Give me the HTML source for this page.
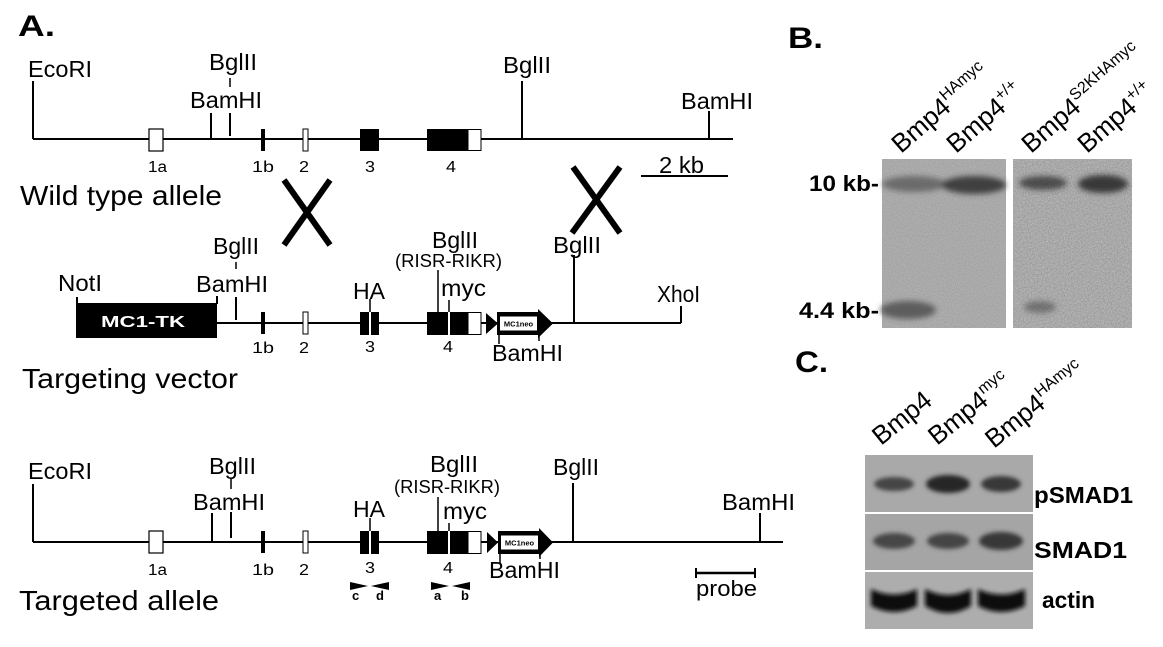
<!DOCTYPE html>
<html><head><meta charset="utf-8"><style>
html,body{margin:0;padding:0;background:#fff;}
svg{display:block;}
text{font-family:"Liberation Sans",Arial,sans-serif;}
</style></head><body>
<svg width="1163" height="647" viewBox="0 0 1163 647" xmlns="http://www.w3.org/2000/svg">
<defs>
<filter id="noise" x="0" y="0" width="100%" height="100%">
<feTurbulence type="fractalNoise" baseFrequency="0.9" numOctaves="2" seed="4"/>
<feColorMatrix type="saturate" values="0"/>
<feComponentTransfer><feFuncA type="linear" slope="0" intercept="0.3"/></feComponentTransfer>
</filter>
<filter id="noise2" x="0" y="0" width="100%" height="100%">
<feTurbulence type="fractalNoise" baseFrequency="0.7" numOctaves="2" seed="9"/>
<feColorMatrix type="saturate" values="0"/>
<feComponentTransfer><feFuncA type="linear" slope="0" intercept="0.45"/></feComponentTransfer>
</filter>
<filter id="blur" x="-50%" y="-100%" width="200%" height="300%"><feGaussianBlur stdDeviation="3"/></filter>
<filter id="blur2" x="-50%" y="-100%" width="200%" height="300%"><feGaussianBlur stdDeviation="2.2"/></filter>
</defs>
<rect width="1163" height="647" fill="#fff"/>

<!-- ===== Panel A ===== -->
<text x="18" y="36" font-size="30" font-weight="bold" textLength="37" lengthAdjust="spacingAndGlyphs">A.</text>

<!-- Wild type allele -->
<g stroke="#000" stroke-width="2" fill="none">
<line x1="33" y1="139" x2="733" y2="139"/>
<line x1="33" y1="81" x2="33" y2="139"/>
<line x1="211" y1="113" x2="211" y2="139"/>
<line x1="230" y1="113" x2="230" y2="136"/>
<line x1="230" y1="78" x2="230" y2="87" stroke-width="1.5"/>
<line x1="522" y1="81" x2="522" y2="139"/>
<line x1="709" y1="111" x2="709" y2="139"/>
<line x1="641" y1="176" x2="728" y2="176"/>
</g>
<rect x="149" y="129" width="14" height="22" fill="#fff" stroke="#000" stroke-width="1.2"/>
<rect x="261" y="129" width="4" height="22" fill="#000"/>
<rect x="303" y="129" width="5" height="22" fill="#fff" stroke="#000" stroke-width="1"/>
<rect x="360" y="129" width="19" height="22" fill="#000"/>
<rect x="427" y="129" width="41" height="22" fill="#000"/>
<rect x="468" y="129.5" width="13" height="21" fill="#fff" stroke="#000" stroke-width="1"/>

<g font-size="23.5" fill="#000">
<text x="28" y="77" textLength="64" lengthAdjust="spacingAndGlyphs">EcoRI</text>
<text x="209" y="70" textLength="48" lengthAdjust="spacingAndGlyphs">BglII</text>
<text x="190" y="108" textLength="72" lengthAdjust="spacingAndGlyphs">BamHI</text>
<text x="503" y="73" textLength="48" lengthAdjust="spacingAndGlyphs">BglII</text>
<text x="681" y="109" textLength="72" lengthAdjust="spacingAndGlyphs">BamHI</text>
<text x="659" y="173" textLength="45" lengthAdjust="spacingAndGlyphs">2 kb</text>
</g>
<g font-size="15.5" fill="#000">
<text x="148" y="172" textLength="19" lengthAdjust="spacingAndGlyphs">1a</text>
<text x="252" y="172" textLength="22" lengthAdjust="spacingAndGlyphs">1b</text>
<text x="299" y="172" textLength="10" lengthAdjust="spacingAndGlyphs">2</text>
<text x="365" y="172" textLength="10" lengthAdjust="spacingAndGlyphs">3</text>
<text x="446" y="172" textLength="10" lengthAdjust="spacingAndGlyphs">4</text>
</g>
<text x="20" y="205" font-size="28" textLength="202" lengthAdjust="spacingAndGlyphs">Wild type allele</text>

<!-- crossover X's -->
<g stroke="#000" stroke-width="6">
<line x1="284" y1="180" x2="330" y2="245"/>
<line x1="330" y1="180" x2="284" y2="245"/>
<line x1="573" y1="167" x2="620" y2="233"/>
<line x1="620" y1="167" x2="572" y2="233"/>
</g>

<!-- Targeting vector -->
<g stroke="#000" stroke-width="2" fill="none">
<line x1="217" y1="323" x2="681" y2="323"/>
<line x1="77" y1="297" x2="77" y2="304"/>
<line x1="217" y1="296" x2="217" y2="304"/>
<line x1="236" y1="297" x2="236" y2="320"/>
<line x1="236" y1="262" x2="236" y2="269" stroke-width="1.5"/>
<line x1="574" y1="255" x2="574" y2="323"/>
<line x1="681" y1="306" x2="681" y2="323"/>
</g>
<rect x="76" y="303" width="141" height="35" fill="#000"/>
<text x="101" y="327" fill="#fff" font-weight="bold" font-size="16" textLength="84" lengthAdjust="spacingAndGlyphs">MC1-TK</text>
<rect x="261" y="312" width="4" height="22" fill="#000"/>
<rect x="303" y="312" width="5" height="22" fill="#fff" stroke="#000" stroke-width="1"/>

<g>
<rect x="360" y="312" width="19" height="23" fill="#000"/>
<rect x="369" y="312" width="2" height="23" fill="#fff"/>
<line x1="370" y1="299" x2="370" y2="312" stroke="#000" stroke-width="1.5"/>
<rect x="427" y="312" width="41" height="23" fill="#000"/>
<rect x="448" y="312" width="2" height="23" fill="#fff"/>
<rect x="468" y="312.5" width="13" height="22" fill="#fff" stroke="#000" stroke-width="1"/>
<line x1="449" y1="300" x2="449" y2="312" stroke="#000" stroke-width="1.5"/>
<line x1="438" y1="270" x2="438" y2="312" stroke="#000" stroke-width="1.5"/>
<polygon points="486,313 498,323.5 486,334" fill="#000"/>
<polygon points="497,312 538,312 538,309 553,323.5 538,338 538,335 497,335" fill="#000"/>
<rect x="500" y="316.5" width="37" height="14" fill="#fff"/>
<text x="518.5" y="326.5" font-size="7.5" font-weight="bold" text-anchor="middle" fill="#000">MC1neo</text>
<line x1="499" y1="334" x2="499" y2="344" stroke="#000" stroke-width="1.5"/>
<line x1="539" y1="334" x2="539" y2="341" stroke="#000" stroke-width="1.5"/>
</g>

<g font-size="23.5" fill="#000">
<text x="58" y="291" textLength="44" lengthAdjust="spacingAndGlyphs">NotI</text>
<text x="196" y="292" textLength="72" lengthAdjust="spacingAndGlyphs">BamHI</text>
<text x="213" y="254" textLength="46" lengthAdjust="spacingAndGlyphs">BglII</text>
<text x="353" y="299" textLength="32" lengthAdjust="spacingAndGlyphs">HA</text>
<text x="432" y="248" textLength="46" lengthAdjust="spacingAndGlyphs">BglII</text>
<text x="441" y="296" textLength="45" lengthAdjust="spacingAndGlyphs">myc</text>
<text x="553" y="253" textLength="48" lengthAdjust="spacingAndGlyphs">BglII</text>
<text x="657" y="302" textLength="43" lengthAdjust="spacingAndGlyphs">XhoI</text>
<text x="492" y="361" textLength="71" lengthAdjust="spacingAndGlyphs">BamHI</text>
</g>
<text x="395" y="267" font-size="18" textLength="107" lengthAdjust="spacingAndGlyphs">(RISR-RIKR)</text>
<g font-size="15.5" fill="#000">
<text x="252" y="353" textLength="22" lengthAdjust="spacingAndGlyphs">1b</text>
<text x="299" y="353" textLength="10" lengthAdjust="spacingAndGlyphs">2</text>
<text x="365" y="352" textLength="10" lengthAdjust="spacingAndGlyphs">3</text>
<text x="443" y="352" textLength="10" lengthAdjust="spacingAndGlyphs">4</text>
</g>
<text x="22" y="388" font-size="28" textLength="216" lengthAdjust="spacingAndGlyphs">Targeting vector</text>

<!-- Targeted allele -->
<g stroke="#000" stroke-width="2" fill="none">
<line x1="33" y1="542" x2="783" y2="542"/>
<line x1="33" y1="484" x2="33" y2="542"/>
<line x1="212" y1="513" x2="212" y2="542"/>
<line x1="231" y1="512" x2="231" y2="538"/>
<line x1="231" y1="479" x2="231" y2="489" stroke-width="1.5"/>
<line x1="573" y1="483" x2="573" y2="542"/>
<line x1="760" y1="513" x2="760" y2="542"/>
</g>
<rect x="149" y="531" width="14" height="22" fill="#fff" stroke="#000" stroke-width="1.2"/>
<rect x="261" y="531" width="4" height="22" fill="#000"/>
<rect x="303" y="531" width="5" height="22" fill="#fff" stroke="#000" stroke-width="1"/>
<g transform="translate(0,219)">
<rect x="360" y="312" width="19" height="23" fill="#000"/>
<rect x="369" y="312" width="2" height="23" fill="#fff"/>
<line x1="370" y1="299" x2="370" y2="312" stroke="#000" stroke-width="1.5"/>
<rect x="427" y="312" width="41" height="23" fill="#000"/>
<rect x="448" y="312" width="2" height="23" fill="#fff"/>
<rect x="468" y="312.5" width="13" height="22" fill="#fff" stroke="#000" stroke-width="1"/>
<line x1="449" y1="304" x2="449" y2="312" stroke="#000" stroke-width="1.5"/>
<line x1="438" y1="278" x2="438" y2="312" stroke="#000" stroke-width="1.5"/>
<polygon points="487,313 498,323.5 487,334" fill="#000"/>
<polygon points="498,312 539,312 539,309 553,323.5 539,338 539,335 498,335" fill="#000"/>
<rect x="501" y="316.5" width="37" height="14" fill="#fff"/>
<text x="519.5" y="326.5" font-size="7.5" font-weight="bold" text-anchor="middle" fill="#000">MC1neo</text>
<line x1="500" y1="334" x2="500" y2="344" stroke="#000" stroke-width="1.5"/>
<line x1="540" y1="334" x2="540" y2="340" stroke="#000" stroke-width="1.5"/>
</g>

<g font-size="23.5" fill="#000">
<text x="28" y="479" textLength="64" lengthAdjust="spacingAndGlyphs">EcoRI</text>
<text x="209" y="474" textLength="47" lengthAdjust="spacingAndGlyphs">BglII</text>
<text x="193" y="510" textLength="72" lengthAdjust="spacingAndGlyphs">BamHI</text>
<text x="353" y="517" textLength="32" lengthAdjust="spacingAndGlyphs">HA</text>
<text x="430" y="472" textLength="48" lengthAdjust="spacingAndGlyphs">BglII</text>
<text x="443" y="519" textLength="44" lengthAdjust="spacingAndGlyphs">myc</text>
<text x="553" y="475" textLength="46" lengthAdjust="spacingAndGlyphs">BglII</text>
<text x="722" y="510" textLength="73" lengthAdjust="spacingAndGlyphs">BamHI</text>
<text x="489" y="578" textLength="71" lengthAdjust="spacingAndGlyphs">BamHI</text>
</g>
<text x="394" y="493" font-size="18" textLength="106" lengthAdjust="spacingAndGlyphs">(RISR-RIKR)</text>
<g font-size="15.5" fill="#000">
<text x="148" y="575" textLength="19" lengthAdjust="spacingAndGlyphs">1a</text>
<text x="252" y="575" textLength="22" lengthAdjust="spacingAndGlyphs">1b</text>
<text x="299" y="575" textLength="10" lengthAdjust="spacingAndGlyphs">2</text>
<text x="365" y="573" textLength="10" lengthAdjust="spacingAndGlyphs">3</text>
<text x="443" y="573" textLength="10" lengthAdjust="spacingAndGlyphs">4</text>
</g>
<!-- primers -->
<g fill="#000">
<polygon points="350,582 368,586 350,590"/>
<polygon points="389,582 371,586 389,590"/>
<polygon points="431,582 449,586 431,590"/>
<polygon points="470,582 452,586 470,590"/>
</g>
<g font-size="13" font-weight="bold" fill="#000">
<text x="352" y="600">c</text>
<text x="376" y="600">d</text>
<text x="434" y="600">a</text>
<text x="461" y="600">b</text>
</g>
<!-- probe -->
<g stroke="#000" stroke-width="2.5">
<line x1="696" y1="573" x2="755" y2="573"/>
<line x1="696" y1="568" x2="696" y2="578" stroke-width="2"/>
<line x1="755" y1="568" x2="755" y2="578" stroke-width="2"/>
</g>
<text x="696" y="596" font-size="22" textLength="61" lengthAdjust="spacingAndGlyphs">probe</text>
<text x="19" y="610" font-size="28" textLength="200" lengthAdjust="spacingAndGlyphs">Targeted allele</text>

<!-- ===== Panel B ===== -->
<text x="788" y="48" font-size="30" font-weight="bold" textLength="35" lengthAdjust="spacingAndGlyphs">B.</text>
<g font-size="26" fill="#000">
<text transform="translate(901,154) rotate(-41)">Bmp4<tspan font-size="16" dy="-11">HAmyc</tspan></text>
<text transform="translate(956,154) rotate(-41)">Bmp4<tspan font-size="16" dy="-11">+/+</tspan></text>
<text transform="translate(1031,154) rotate(-41)">Bmp4<tspan font-size="16" dy="-11">S2KHAmyc</tspan></text>
<text transform="translate(1087,154) rotate(-41)">Bmp4<tspan font-size="16" dy="-11">+/+</tspan></text>
</g>
<rect x="882" y="159" width="124" height="169" fill="#a2a2a2"/>
<rect x="882" y="159" width="124" height="169" filter="url(#noise)"/>
<rect x="1013" y="159" width="119" height="169" fill="#9a9a9a"/>
<rect x="1013" y="159" width="119" height="169" filter="url(#noise2)"/>
<g filter="url(#blur)">
<ellipse cx="914" cy="184" rx="32" ry="8" fill="#555" opacity="0.75"/>
<ellipse cx="974" cy="185" rx="32" ry="9" fill="#333" opacity="0.9"/>
<ellipse cx="908" cy="310" rx="28" ry="9" fill="#4a4a4a" opacity="0.8"/>
<ellipse cx="1043" cy="183" rx="24" ry="7" fill="#2e2e2e" opacity="0.75"/>
<ellipse cx="1103" cy="184" rx="25" ry="9" fill="#262626" opacity="0.85"/>
<ellipse cx="1040" cy="307" rx="16" ry="6" fill="#444" opacity="0.55"/>
</g>
<g font-size="22" font-weight="bold" fill="#000">
<text x="809" y="191" textLength="70" lengthAdjust="spacingAndGlyphs">10 kb-</text>
<text x="799" y="318" textLength="80" lengthAdjust="spacingAndGlyphs">4.4 kb-</text>
</g>

<!-- ===== Panel C ===== -->
<text x="795" y="372" font-size="30" font-weight="bold" textLength="33" lengthAdjust="spacingAndGlyphs">C.</text>
<g font-size="26" fill="#000">
<text transform="translate(881,446) rotate(-39)">Bmp4</text>
<text transform="translate(937,446) rotate(-39)">Bmp4<tspan font-size="16" dy="-11">myc</tspan></text>
<text transform="translate(994,449) rotate(-39)">Bmp4<tspan font-size="16" dy="-11">HAmyc</tspan></text>
</g>
<rect x="865" y="455" width="168" height="57" fill="#a9a9a9"/>
<rect x="865" y="514" width="168" height="56" fill="#a5a5a5"/>
<rect x="865" y="572" width="168" height="57" fill="#adadad"/>
<g filter="url(#blur2)">
<ellipse cx="894" cy="484" rx="20" ry="7" fill="#444"/>
<ellipse cx="948" cy="484" rx="22" ry="9" fill="#262626"/>
<ellipse cx="1001" cy="484" rx="20" ry="8" fill="#383838"/>
<ellipse cx="894" cy="541" rx="21" ry="8" fill="#474747"/>
<ellipse cx="948" cy="541" rx="21" ry="8" fill="#444"/>
<ellipse cx="1001" cy="541" rx="22" ry="9" fill="#383838"/>
<path d="M871 589 Q894 600 917 589 L917 606 Q894 618 871 606 Z" fill="#0c0c0c"/>
<path d="M925 589 Q948 601 971 589 L971 606 Q948 620 925 606 Z" fill="#0c0c0c"/>
<path d="M978 589 Q1001 600 1025 589 L1025 606 Q1001 618 978 606 Z" fill="#0c0c0c"/>
</g>
<g font-size="23" font-weight="bold" fill="#000">
<text x="1034" y="503" textLength="99" lengthAdjust="spacingAndGlyphs">pSMAD1</text>
<text x="1034" y="558" textLength="93" lengthAdjust="spacingAndGlyphs">SMAD1</text>
<text x="1042" y="608" textLength="53" lengthAdjust="spacingAndGlyphs">actin</text>
</g>
</svg>
</body></html>
